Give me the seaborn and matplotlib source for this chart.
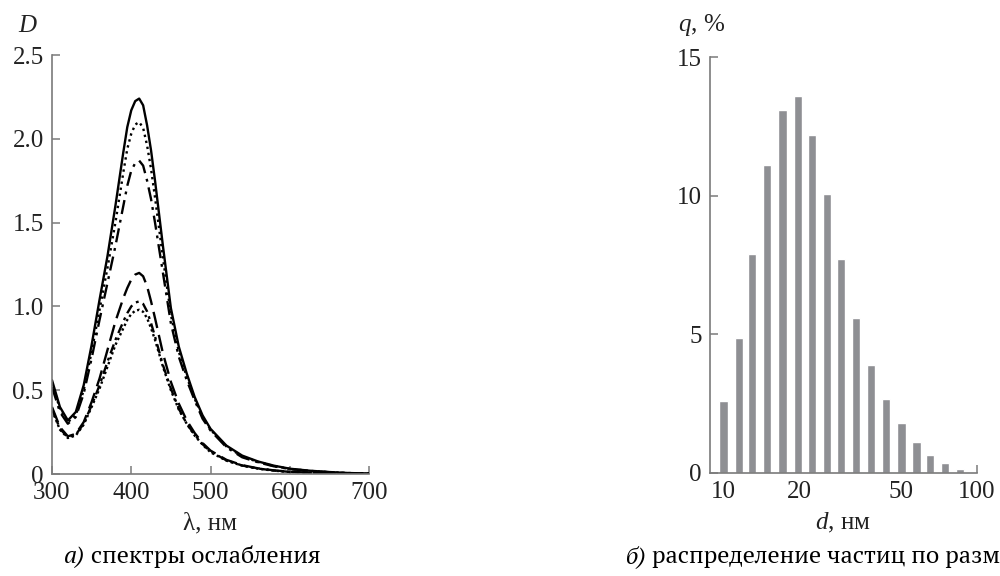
import matplotlib
matplotlib.use("Agg")
import numpy as np
import pandas as pd
import matplotlib.pyplot as plt
import seaborn as sns

# --- data ---
wavelength = [300, 310, 320, 330, 340, 350, 360, 370, 380, 390, 395, 400, 405, 410, 415, 420, 425,
              430, 440, 450, 460, 470, 480, 490, 500, 520, 540, 560, 580, 600, 625, 650, 675, 700]

spec_solid = [0.56, 0.40, 0.32, 0.37, 0.53, 0.77, 1.04, 1.30, 1.60, 1.92, 2.07, 2.17, 2.225, 2.24, 2.20, 2.08, 1.93,
              1.75, 1.36, 0.99, 0.76, 0.60, 0.46, 0.35, 0.27, 0.17, 0.11, 0.075, 0.05, 0.032, 0.02, 0.012, 0.006, 0.003]
spec_dot_hi = [0.54, 0.39, 0.31, 0.35, 0.50, 0.73, 0.98, 1.23, 1.50, 1.80, 1.94, 2.03, 2.085, 2.10, 2.065, 1.96, 1.82,
               1.65, 1.29, 0.95, 0.73, 0.58, 0.45, 0.34, 0.265, 0.165, 0.105, 0.072, 0.048, 0.031, 0.019, 0.011, 0.006, 0.003]
spec_dashdot_hi = [0.52, 0.37, 0.30, 0.34, 0.48, 0.69, 0.92, 1.14, 1.36, 1.60, 1.72, 1.81, 1.855, 1.87, 1.84, 1.75, 1.64,
                   1.50, 1.20, 0.90, 0.70, 0.56, 0.44, 0.33, 0.26, 0.16, 0.10, 0.07, 0.046, 0.03, 0.018, 0.011, 0.005, 0.002]
spec_dash_lo = [0.40, 0.28, 0.225, 0.24, 0.31, 0.43, 0.57, 0.74, 0.91, 1.05, 1.11, 1.16, 1.19, 1.20, 1.18, 1.12, 1.03,
                0.93, 0.72, 0.55, 0.42, 0.32, 0.245, 0.185, 0.14, 0.085, 0.053, 0.034, 0.022, 0.014, 0.008, 0.005, 0.002, 0.001]
spec_dashdot_lo = [0.39, 0.27, 0.22, 0.235, 0.30, 0.41, 0.53, 0.67, 0.80, 0.91, 0.96, 1.00, 1.023, 1.03, 1.015, 0.97, 0.90,
                   0.82, 0.65, 0.51, 0.39, 0.30, 0.235, 0.178, 0.135, 0.082, 0.051, 0.033, 0.021, 0.013, 0.008, 0.004, 0.002, 0.001]
spec_dot_lo = [0.38, 0.265, 0.215, 0.23, 0.295, 0.40, 0.51, 0.64, 0.77, 0.87, 0.92, 0.955, 0.974, 0.98, 0.968, 0.93, 0.87,
               0.80, 0.64, 0.50, 0.385, 0.30, 0.23, 0.175, 0.13, 0.08, 0.05, 0.032, 0.02, 0.013, 0.007, 0.004, 0.002, 0.001]

diameter = [10.0, 11.5, 13.0, 14.9, 17.1, 19.7, 22.4, 25.6, 29.1, 33.4, 38.3, 43.9, 50.4, 57.8, 65.1, 74.6, 85.6]
fraction = [2.6, 4.85, 7.9, 11.1, 13.1, 13.6, 12.2, 10.05, 7.7, 5.6, 3.9, 2.65, 1.8, 1.1, 0.65, 0.35, 0.13]

x_ticks_a = [300, 400, 500, 600, 700]
y_ticks_a = [0, 0.5, 1.0, 1.5, 2.0, 2.5]
y_ticklabels_a = ["0", "0.5", "1.0", "1.5", "2.0", "2.5"]
x_ticks_b = [10, 20, 50, 100]
y_ticks_b = [0, 5, 10, 15]

captions = [("а)", " спектры ослабления"), ("б)", " распределение частиц по размерам")]

sns.set_theme(style="ticks")
plt.rcParams["font.family"] = ["Liberation Serif", "DejaVu Serif"]
plt.rcParams["mathtext.fontset"] = "custom"
plt.rcParams["mathtext.rm"] = "Liberation Serif"
plt.rcParams["mathtext.it"] = "Liberation Serif:italic"

spine_col = "#7a7a7a"
text_col = "#222222"
tick_fs = 18
cap_family = ["PT Serif", "Noto Serif", "DejaVu Serif"]

fig = plt.figure(figsize=(10, 5.76), dpi=100)
ax1 = fig.add_axes([0.052, 0.177, 0.317, 0.7275])
ax2 = fig.add_axes([0.710, 0.179, 0.267, 0.722])

# --- panel a: extinction spectra ---
curves = [
    (spec_solid, "-"),
    (spec_dot_hi, (0, (1, 1.6))),
    (spec_dashdot_hi, (0, (6, 2.5, 1.2, 2.5))),
    (spec_dash_lo, (0, (7, 3))),
    (spec_dashdot_lo, (0, (4, 2, 1.2, 2))),
    (spec_dot_lo, (0, (1, 1.2))),
]
for vals, ls in curves:
    sns.lineplot(x=wavelength, y=vals, ax=ax1, color="black", lw=1.7, linestyle=ls)

ax1.set_xlim(300, 700)
ax1.set_ylim(0, 2.5)
ax1.set_xticks(x_ticks_a)
ax1.set_yticks(y_ticks_a)
ax1.set_yticklabels(y_ticklabels_a)

# --- panel b: size distribution ---
ax2.set_xscale("log")
ax2.bar(diameter, fraction, width=[d * 0.075 for d in diameter], color="#8e8f93", align="center")
ax2.set_xlim(8.85, 100)
ax2.set_ylim(0, 15)
ax2.set_xticks(x_ticks_b)
ax2.set_xticklabels([str(t) for t in x_ticks_b])
ax2.minorticks_off()
ax2.set_yticks(y_ticks_b)

for ax in (ax1, ax2):
    sns.despine(ax=ax)
    for s in ("left", "bottom"):
        ax.spines[s].set_color(spine_col)
        ax.spines[s].set_linewidth(1.2)
    ax.tick_params(direction="in", length=6, width=1.1, color=spine_col,
                   labelsize=tick_fs, labelcolor=text_col, pad=6)
    ax.set_xlabel("")
    ax.set_ylabel("")
    ax.patch.set_alpha(0)

# axis titles
fig.text(0.018, 0.955, "$D$", fontsize=tick_fs, color=text_col, va="center", ha="left")
fig.text(0.678, 0.957, "$q$, %", fontsize=tick_fs, color=text_col, va="center", ha="left")
fig.text(0.210, 1 - 523 / 576, "λ, нм", fontsize=tick_fs, color=text_col, va="center", ha="center")
fig.text(0.843, 1 - 523 / 576, "$d$, нм", fontsize=tick_fs, color=text_col, va="center", ha="center")

# captions: italic letter, then upright text right after it
cy = 1 - 557 / 576
cap_fs = 15.0
probe = fig.text(0, 0, captions[0][0] + captions[0][1], fontsize=cap_fs, family=cap_family)
fig.canvas.draw()
w = probe.get_window_extent().width
probe.remove()
cap_fs = cap_fs * 259.0 / w

fig.canvas.draw()
for x0, (lead, rest) in zip((0.064, 0.625), captions):
    t = fig.text(x0, cy, lead, fontsize=cap_fs, family=cap_family, style="italic",
                 va="center", ha="left", color="black")
    fig.canvas.draw()
    bb = t.get_window_extent().transformed(fig.transFigure.inverted())
    fig.text(bb.x1, cy, rest, fontsize=cap_fs, family=cap_family,
             va="center", ha="left", color="black")

fig.savefig("out.png", dpi=100)
